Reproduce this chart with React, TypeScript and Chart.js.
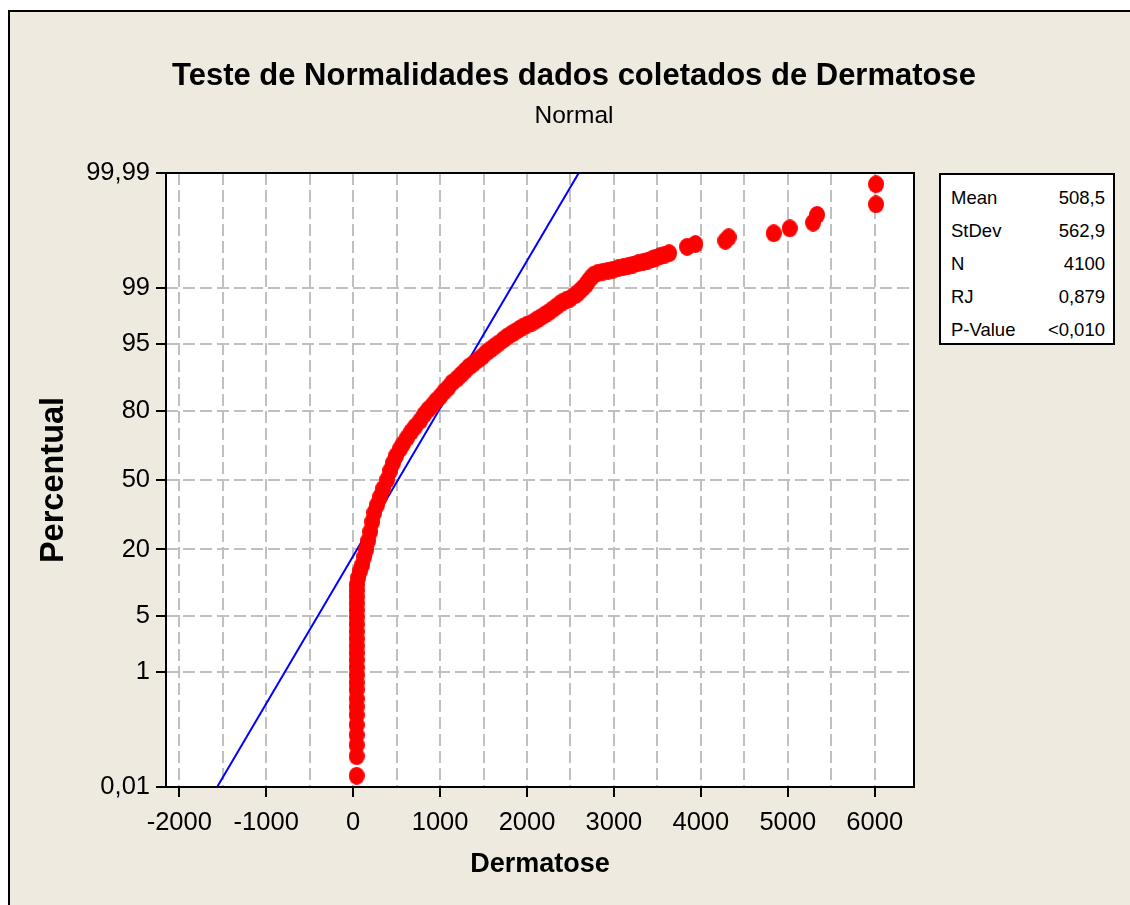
import React, { useEffect, useRef } from 'react';
import { Chart, registerables } from 'chart.js';

Chart.register(...registerables);

// ---------- text ----------
const TITLE = 'Teste de Normalidades dados coletados de Dermatose';
const SUBTITLE = 'Normal';
const X_TITLE = 'Dermatose';
const Y_TITLE = 'Percentual';

// ---------- axes ----------
const X_MIN = -2153;
const X_MAX = 6452;
const xGridValues = [-2000, -1500, -1000, -500, 0, 500, 1000, 1500, 2000, 2500, 3000, 3500, 4000, 4500, 5000, 5500, 6000];
const xLabelValues = [-2000, -1000, 0, 1000, 2000, 3000, 4000, 5000, 6000];
const xTickLabels = ['-2000', '-1000', '0', '1000', '2000', '3000', '4000', '5000', '6000'];
const yTickPercents = [0.01, 1, 5, 20, 50, 80, 95, 99, 99.99];
const yTickLabels = ['0,01', '1', '5', '20', '50', '80', '95', '99', '99,99'];

// ---------- data (value, percentile) ----------
const lowValues = [40, 40, 40, 40, 40, 40, 40, 40, 40, 40, 40, 40, 40, 40, 40, 40, 40, 40, 40, 40, 40, 40, 40, 42];
const lowPercents = [0.017, 0.041, 0.066, 0.1, 0.15, 0.22, 0.3, 0.4, 0.55, 0.7, 0.9, 1.15, 1.45, 1.8, 2.2, 2.7, 3.3, 4, 4.8, 5.7, 6.7, 7.8, 9, 10.2];

const curveValues = [57, 80, 104, 127, 150, 173, 196, 219, 242, 276, 311, 345, 391, 426, 460, 495, 541, 575, 621, 667,
  713, 771, 817, 863, 909, 955, 1001, 1047, 1093, 1139, 1196, 1242, 1288, 1334, 1381, 1438, 1484, 1530, 1576, 1622,
  1668, 1726, 1772, 1818, 1864, 1910, 1956, 2002, 2059, 2105, 2151, 2197, 2243, 2289, 2335, 2381, 2416, 2462, 2496, 2542,
  2577, 2611, 2646, 2680, 2703, 2738, 2772, 2819, 2876, 2934, 2991, 3049, 3106, 3164, 3221, 3279, 3336, 3394, 3440, 3486,
  3532, 3589, 3635];
const curvePercents = [11.8, 13.55, 15.2, 17.62, 19.91, 23.09, 26.54, 30.65, 34.57, 38.21, 41.96, 45.78, 50.12, 54.46, 58.28, 61.56, 64.77, 67.0, 69.57, 72.07,
  74.09, 76.4, 78.56, 80.29, 81.6, 83.17, 84.38, 85.77, 86.84, 88.1, 89.03, 89.91, 90.74, 91.51, 92.06, 92.76, 93.24, 93.86, 94.28, 94.7,
  95.07, 95.54, 95.88, 96.14, 96.39, 96.62, 96.84, 97.01, 97.17, 97.36, 97.54, 97.71, 97.87, 98.05, 98.21, 98.37, 98.47, 98.56, 98.6, 98.73,
  98.8, 98.91, 99.01, 99.1, 99.19, 99.29, 99.36, 99.4, 99.42, 99.44, 99.46, 99.487, 99.505, 99.523, 99.547, 99.571, 99.585, 99.607, 99.627, 99.648,
  99.667, 99.684, 99.7];

const tailValues = [3842, 3937, 4282, 4320, 4838, 5022, 5291, 5337, 6015, 6015];
const tailPercents = [99.763, 99.787, 99.812, 99.836, 99.86, 99.885, 99.909, 99.934, 99.958, 99.983];

// fitted normal line (read at its two ends)
const fitValues = [-1565, 2595];
const fitPercents = [0.01, 99.99];

// ---------- statistics box ----------
const statLabels = ['Mean', 'StDev', 'N', 'RJ', 'P-Value'];
const statValues = ['508,5', '562,9', '4100', '0,879', '<0,010'];

// inverse standard normal CDF (probability-scale transform)
function probit(p: number): number {
  const a = [-3.969683028665376e1, 2.209460984245205e2, -2.759285104469687e2, 1.38357751867269e2, -3.066479806614716e1, 2.506628277459239];
  const b = [-5.447609879822406e1, 1.615858368580409e2, -1.556989798598866e2, 6.680131188771972e1, -1.328068155288572e1];
  const c = [-7.784894002430293e-3, -3.223964580411365e-1, -2.400758277161838, -2.549732539343734, 4.374664141464968, 2.938163982698783];
  const d = [7.784695709041462e-3, 3.224671290700398e-1, 2.445134137142996, 3.754408661907416];
  const plow = 0.02425;
  if (p < plow) {
    const q = Math.sqrt(-2 * Math.log(p));
    return (((((c[0] * q + c[1]) * q + c[2]) * q + c[3]) * q + c[4]) * q + c[5]) / ((((d[0] * q + d[1]) * q + d[2]) * q + d[3]) * q + 1);
  }
  if (p > 1 - plow) {
    const q = Math.sqrt(-2 * Math.log(1 - p));
    return -(((((c[0] * q + c[1]) * q + c[2]) * q + c[3]) * q + c[4]) * q + c[5]) / ((((d[0] * q + d[1]) * q + d[2]) * q + d[3]) * q + 1);
  }
  const q = p - 0.5;
  const r = q * q;
  return ((((((a[0] * r + a[1]) * r + a[2]) * r + a[3]) * r + a[4]) * r + a[5]) * q) /
    (((((b[0] * r + b[1]) * r + b[2]) * r + b[3]) * r + b[4]) * r + 1);
}

function hasFont(name: string): boolean {
  const g = document.createElement('canvas').getContext('2d');
  if (!g) return false;
  const s = 'Teste de Normalidades 0123456789 Mean';
  g.font = '40px monospace';
  const base = g.measureText(s).width;
  g.font = `40px "${name}", monospace`;
  return Math.abs(g.measureText(s).width - base) > 0.5;
}

function makeDot(w: number, h: number, color: string): HTMLCanvasElement {
  const c = document.createElement('canvas');
  c.width = w;
  c.height = h;
  const g = c.getContext('2d')!;
  g.fillStyle = color;
  g.beginPath();
  g.ellipse(w / 2, h / 2, w / 2, h / 2, 0, 0, Math.PI * 2);
  g.fill();
  return c;
}

const CANVAS_W = 1120;
const CANVAS_H = 893;
const BEIGE = 'rgb(238,234,224)';

export default function App() {
  const ref = useRef<HTMLCanvasElement | null>(null);
  const narrow = typeof document !== 'undefined' && hasFont('Liberation Sans Narrow');
  const FAMILY = narrow ? '"Liberation Sans Narrow", "Liberation Sans", Arial, sans-serif' : '"Liberation Sans", Arial, sans-serif';
  const S = narrow
    ? { title: 37, sub: 29.5, tick: 30, xTitle: 32, yTitle: 38, legend: 22 }
    : { title: 31, sub: 24.5, tick: 25.5, xTitle: 27, yTitle: 32.5, legend: 18.5 };

  useEffect(() => {
    if (!ref.current) return;
    Chart.defaults.font.family = FAMILY;
    Chart.defaults.color = '#000';

    const toPts = (xs: number[], ps: number[]) => xs.map((x, i) => ({ x, y: probit(ps[i] / 100) }));
    const redPts = [...toPts(lowValues, lowPercents), ...toPts(curveValues, curvePercents), ...toPts(tailValues, tailPercents)];
    const fitPts = toPts(fitValues, fitPercents);
    const dot = makeDot(16, 18, '#FF0000');

    // vertical layout targets (canvas coordinates)
    const lhT = S.title * 1.2;
    const lhS = S.sub * 1.2;
    const lhY = S.yTitle * 1.2;
    const titleCenter = 64;
    const subCenter = 104;
    const plotTop = 161;
    const titlePadTop = titleCenter - lhT / 2;
    const subPadTop = subCenter - lhS / 2 - (titleCenter + lhT / 2);
    const subPadBottom = plotTop - (subCenter + lhS / 2);
    const yTitlePad = 36 - lhY / 2;

    const frame = {
      id: 'plotFrame',
      beforeDraw(chart: any) {
        const { ctx, chartArea: a } = chart;
        ctx.save();
        ctx.fillStyle = '#FFFFFF';
        ctx.fillRect(a.left, a.top, a.right - a.left, a.bottom - a.top);
        ctx.restore();
      },
      afterDraw(chart: any) {
        const { ctx, chartArea: a } = chart;
        const l = Math.round(a.left);
        const t = Math.round(a.top);
        const r = Math.round(a.right);
        const b = Math.round(a.bottom);
        ctx.save();
        ctx.strokeStyle = '#000';
        ctx.lineWidth = 2;
        ctx.strokeRect(l, t, r - l, b - t);
        ctx.restore();
      },
    };

    const yMin = probit(yTickPercents[0] / 100);
    const yMax = probit(yTickPercents[yTickPercents.length - 1] / 100);

    const chart = new Chart(ref.current, {
      type: 'scatter',
      data: {
        datasets: [
          {
            label: 'Dermatose',
            data: redPts,
            pointStyle: dot as any,
            pointRadius: 8,
            backgroundColor: '#FF0000',
            borderColor: '#FF0000',
            order: 0,
          },
          {
            label: 'Ajuste',
            data: fitPts,
            showLine: true,
            pointRadius: 0,
            borderColor: '#0000FF',
            borderWidth: 2,
            order: 1,
          },
        ],
      },
      options: {
        animation: false,
        responsive: false,
        events: [],
        layout: { padding: { left: 8, right: 0, top: 0, bottom: 0 } },
        plugins: {
          legend: { display: false },
          tooltip: { enabled: false },
          title: {
            display: true,
            text: TITLE,
            color: '#000',
            font: { family: FAMILY, size: S.title, weight: 'bold', lineHeight: 1.2 },
            padding: { top: titlePadTop, bottom: 0 },
          },
          subtitle: {
            display: true,
            text: SUBTITLE,
            color: '#000',
            font: { family: FAMILY, size: S.sub, weight: 'normal', lineHeight: 1.2 },
            padding: { top: subPadTop, bottom: subPadBottom },
          },
        },
        scales: {
          x: {
            type: 'linear',
            position: 'bottom',
            min: X_MIN,
            max: X_MAX,
            afterBuildTicks: (s: any) => {
              s.ticks = xGridValues.map((v) => ({ value: v }));
            },
            afterFit: (s: any) => {
              s.height = 118;
            },
            ticks: {
              autoSkip: false,
              maxRotation: 0,
              minRotation: 0,
              padding: 11,
              color: '#000',
              font: { family: FAMILY, size: S.tick },
              callback: (v: any) => {
                const i = xLabelValues.indexOf(Number(v));
                return i >= 0 ? xTickLabels[i] : '';
              },
            },
            grid: {
              color: '#C0C0C0',
              lineWidth: 2,
              drawTicks: true,
              tickLength: 10,
              tickWidth: 2,
              tickColor: (c: any) => (c.tick && xLabelValues.includes(c.tick.value) ? '#000' : 'rgba(0,0,0,0)'),
            },
            border: { display: false, dash: [12, 5] },
            title: {
              display: true,
              text: X_TITLE,
              color: '#000',
              font: { family: FAMILY, size: S.xTitle, weight: 'bold' },
              padding: { top: 0, bottom: 24 },
            },
          },
          y: {
            type: 'linear',
            position: 'left',
            min: yMin,
            max: yMax,
            afterBuildTicks: (s: any) => {
              s.ticks = yTickPercents.map((p) => ({ value: probit(p / 100) }));
            },
            afterFit: (s: any) => {
              s.width = 148;
            },
            ticks: {
              autoSkip: false,
              padding: 6,
              color: '#000',
              font: { family: FAMILY, size: S.tick },
              callback: (_v: any, i: number) => yTickLabels[i],
            },
            grid: {
              color: '#C0C0C0',
              lineWidth: 2,
              drawTicks: true,
              tickLength: 10,
              tickWidth: 2,
              tickColor: '#000',
            },
            border: { display: false, dash: [12, 5] },
            title: {
              display: true,
              text: Y_TITLE,
              color: '#000',
              font: { family: FAMILY, size: S.yTitle, weight: 'bold', lineHeight: 1.2 },
              padding: { top: yTitlePad, bottom: 0 },
            },
          },
          y2: {
            type: 'linear',
            position: 'right',
            display: true,
            grid: { display: false },
            border: { display: false },
            ticks: { display: false },
            afterFit: (s: any) => {
              s.width = 216;
            },
          },
        },
      } as any,
      plugins: [frame],
    });
    return () => chart.destroy();
  }, []);

  return (
    <div
      style={{
        position: 'fixed',
        left: 8,
        top: 10,
        width: 1122,
        height: 895,
        boxSizing: 'border-box',
        borderLeft: '2px solid #000',
        borderTop: '2px solid #000',
        background: BEIGE,
        overflow: 'hidden',
      }}
    >
      <canvas ref={ref} width={CANVAS_W} height={CANVAS_H} style={{ position: 'absolute', left: 0, top: 0, width: CANVAS_W, height: CANVAS_H }} />
      <div
        style={{
          position: 'absolute',
          left: 929,
          top: 161,
          width: 176,
          height: 172,
          boxSizing: 'border-box',
          border: '2px solid #000',
          background: '#FFFFFF',
          padding: '6px 8px 0 10px',
          fontFamily: FAMILY,
          fontSize: S.legend,
          lineHeight: '33px',
          color: '#000',
        }}
      >
        {statLabels.map((l, i) => (
          <div key={l} style={{ display: 'flex', justifyContent: 'space-between', whiteSpace: 'nowrap' }}>
            <span>{l}</span>
            <span>{statValues[i]}</span>
          </div>
        ))}
      </div>
    </div>
  );
}
